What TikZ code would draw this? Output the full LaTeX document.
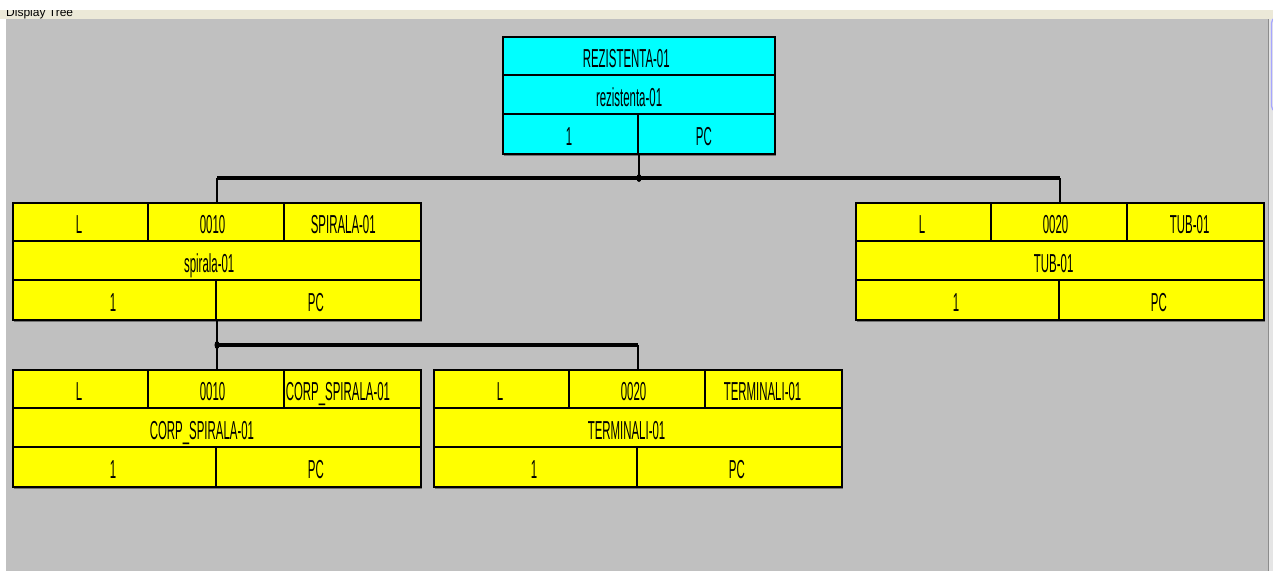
\documentclass[tikz,border=0pt]{standalone}
\usepackage{fontspec}
\setmainfont{Liberation Sans}[FakeStretch=0.44]
\newfontfamily\uifont{Liberation Sans}
\usetikzlibrary{positioning,calc,shadows}
\definecolor{panel}{HTML}{C0C0C0}
\definecolor{titlebar}{HTML}{ECE9D8}
\definecolor{rootcyan}{HTML}{00FFFF}
\definecolor{partyellow}{HTML}{FFFF00}
\newcommand{\lefty}[1]{\makebox[1.27\width][l]{#1}}

\begin{document}
\begin{tikzpicture}[
  x=1pt, y=-1pt, font=\fontsize{26}{28}\selectfont,
  part/.style={rectangle, draw, line width=2pt, anchor=north west, inner sep=0pt,
    minimum width=408pt, minimum height=117pt, fill=partyellow,
    drop shadow={shadow xshift=1pt, shadow yshift=-1.5pt, fill=black!55, opacity=1}},
  root/.style={part, fill=rootcyan, minimum width=272pt},
  txt/.style={inner sep=0pt, text height=19pt, text depth=0pt},
  grid/.style={line width=1.2pt},
  link/.style={line width=2pt},
  trunk/.style={line width=4pt},
]
  \useasboundingbox (0,0) rectangle (1273,571);
  % window frame
  \fill[white] (0,0) rectangle (1273,571);
  \fill[titlebar] (0,10) rectangle (1273,19);
  \begin{scope}
    \clip (0,10) rectangle (1273,19);
    \node[anchor=base west, inner sep=0pt, font=\uifont\fontsize{12}{14}\selectfont] (title) at (6,16.5) {Display Tree};
  \end{scope}
  \fill[panel] (6,19) rectangle (1268,571);
  \fill[black!10] (1269,19) rectangle (1273,571);
  \draw[black!45, line width=1pt] (1268.5,19) -- (1268.5,571);
  \draw[blue!35, line width=1.2pt, rounded corners=2pt] (1273,19) -- (1271.5,21) -- (1271.5,108) -- (1273,110);

  % boxes
  \node[root] (rez) at (502,36) {};
  \node[part] (spir) at (12,202) {};
  \node[part] (tub) at (855,202) {};
  \node[part] (corp) at (12,369) {};
  \node[part] (term) at (433,369) {};

  % root cells
  \draw[grid] ($(rez.north west)+(0,39)$) -- ($(rez.north east)+(0,39)$);
  \draw[grid] ($(rez.north west)+(0,78)$) -- ($(rez.north east)+(0,78)$);
  \draw[grid] ($(rez.north west)+(136,78)$) -- ($(rez.north west)+(136,117)$);
  \node[txt] (rez-code) at ($(rez.north west)+(136,22)$) {\lefty{REZISTENTA-01}};
  \node[txt] (rez-name) at ($(rez.north west)+(136,61)$) {\lefty{rezistenta-01}};
  \node[txt] (rez-qty) at ($(rez.north west)+(68,100)$) {\lefty{1}};
  \node[txt] (rez-unit) at ($(rez.north west)+(204,100)$) {\lefty{PC}};

  % component cells
  \foreach \p/\pos/\code/\name in {spir/0010/SPIRALA-01/spirala-01, tub/0020/TUB-01/TUB-01,
      corp/0010/CORP\_SPIRALA-01/CORP\_SPIRALA-01, term/0020/TERMINALI-01/TERMINALI-01} {
    \draw[grid] ($(\p.north west)+(0,39)$) -- ($(\p.north east)+(0,39)$);
    \draw[grid] ($(\p.north west)+(0,78)$) -- ($(\p.north east)+(0,78)$);
    \draw[grid] ($(\p.north west)+(136,0)$) -- ($(\p.north west)+(136,39)$);
    \draw[grid] ($(\p.north west)+(272,0)$) -- ($(\p.north west)+(272,39)$);
    \draw[grid] ($(\p.north west)+(204,78)$) -- ($(\p.north west)+(204,117)$);
    \node[txt] (\p-lvl) at ($(\p.north west)+(68,22)$) {\lefty{L}};
    \node[txt] (\p-pos) at ($(\p.north west)+(204,22)$) {\lefty{\pos}};
    \node[txt] (\p-code) at ($(\p.north west)+(340,22)$) {\lefty{\code}};
    \node[txt] (\p-name) at ($(\p.north west)+(204,61)$) {\lefty{\name}};
    \node[txt] (\p-qty) at ($(\p.north west)+(102,100)$) {\lefty{1}};
    \node[txt] (\p-unit) at ($(\p.north west)+(306,100)$) {\lefty{PC}};
  }

  % tree connectors
  \coordinate (j1) at ($(rez.south)+(0,23)$);
  \draw[link] (rez.south) -- (j1);
  \draw[trunk] (spir.north |- j1) -- (tub.north |- j1);
  \draw[link] (spir.north |- j1) -- (spir.north);
  \draw[link] (tub.north |- j1) -- (tub.north);
  \fill (j1) ellipse [x radius=2.5, y radius=4];

  \coordinate (j2) at ($(spir.south)+(0,24)$);
  \draw[link] (spir.south) -- (corp.north);
  \draw[trunk] (j2) -- (term.north |- j2);
  \draw[link] (term.north |- j2) -- (term.north);
  \fill (j2) ellipse [x radius=2.5, y radius=4];
\end{tikzpicture}
\end{document}
